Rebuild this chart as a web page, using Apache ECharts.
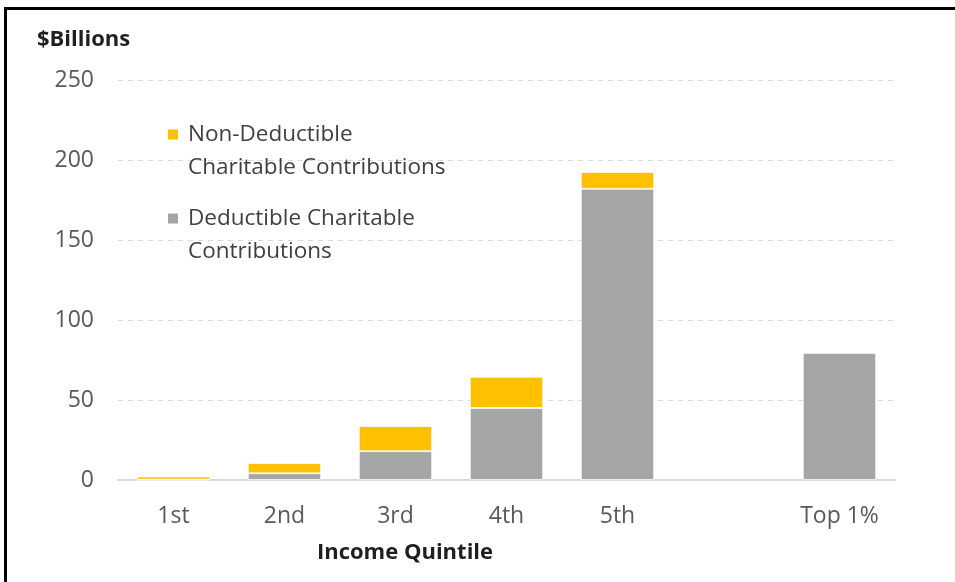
<!DOCTYPE html>
<html>
<head>
<meta charset="utf-8">
<script src="https://cdn.jsdelivr.net/npm/echarts@6/dist/echarts.min.js"></script>
<style>
html,body{margin:0;padding:0;background:#fff;}
#chart{width:955px;height:582px;}
</style>
</head>
<body>
<div id="chart"></div>
<script>
const categories = ['1st', '2nd', '3rd', '4th', '5th', '', 'Top 1%'];
const deductible = [0.2, 4.2, 18, 45, 182, '-', 79.5];
const nonDeductible = [2.0, 6.3, 15.7, 19.5, 10.5, '-', 0];
const yTicks = [0, 50, 100, 150, 200, 250];
const nameNon = 'Non-Deductible Charitable Contributions';
const nameDed = 'Deductible Charitable Contributions';
const legendText = {};
legendText[nameNon] = '\nNon-Deductible\nCharitable Contributions';
legendText[nameDed] = '\nDeductible Charitable\nContributions';

const FONT = 'Open Sans';
const chart = echarts.init(document.getElementById('chart'));
chart.setOption({
  animation: false,
  backgroundColor: '#fff',
  textStyle: { fontFamily: FONT },
  grid: { left: 118, right: 60, top: 80, bottom: 102 },
  legend: {
    orient: 'vertical',
    left: 166,
    top: 85,
    padding: 0,
    itemWidth: 12,
    itemHeight: 12,
    itemGap: -15,
    icon: 'rect',
    data: [nameNon, nameDed],
    formatter: n => legendText[n],
    textStyle: { fontFamily: FONT, fontSize: 22.5, color: '#404040', lineHeight: 33, padding: [0, 0, 0, 4] }
  },
  xAxis: {
    type: 'category',
    data: categories,
    axisLine: { lineStyle: { color: '#d9d9d9', width: 2 } },
    axisTick: { show: false },
    axisLabel: { fontFamily: FONT, fontSize: 23, color: '#595959', margin: 25 }
  },
  yAxis: {
    type: 'value',
    min: yTicks[0],
    max: yTicks[yTicks.length - 1],
    interval: 50,
    axisLine: { show: false },
    axisTick: { show: false },
    axisLabel: { fontFamily: FONT, fontSize: 23, color: '#595959', margin: 24 },
    splitLine: { lineStyle: { color: '#d9d9d9', type: [5, 5], width: 1 } }
  },
  series: [
    {
      name: nameDed,
      type: 'bar',
      stack: 'total',
      data: deductible,
      barWidth: '66%',
      itemStyle: { color: '#A5A5A5', borderColor: '#ffffff', borderWidth: 0.8 }
    },
    {
      name: nameNon,
      type: 'bar',
      stack: 'total',
      data: nonDeductible,
      barWidth: '66%',
      itemStyle: { color: '#FFC000', borderColor: '#ffffff', borderWidth: 0.8 }
    }
  ],
  graphic: [
    { type: 'polyline', shape: { points: [[5.5, 582], [5.5, 8.5], [955, 8.5]] }, style: { stroke: '#000', lineWidth: 3, fill: null } },
    { type: 'text', x: 37, y: 40, style: { text: '$Billions', font: 'bold 22px ' + FONT, fill: '#1f1f1f', verticalAlign: 'middle' } },
    { type: 'text', x: 405, y: 553, style: { text: 'Income Quintile', font: 'bold 22px ' + FONT, fill: '#1f1f1f', align: 'center', verticalAlign: 'middle' } }
  ]
});
</script>
</body>
</html>
